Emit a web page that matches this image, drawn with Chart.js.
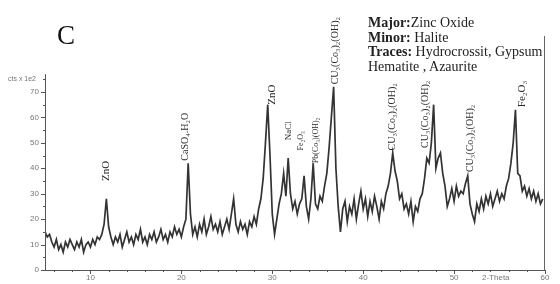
<!DOCTYPE html>
<html>
<head>
<meta charset="utf-8">
<script src="https://cdn.jsdelivr.net/npm/chart.js@4.4.0/dist/chart.umd.min.js"></script>
<style>
html, body { margin: 0; padding: 0; background: #fff; }
#wrap { position: relative; width: 560px; height: 284px; overflow: hidden; }
#xrd { position: absolute; left: 0; top: 0; }
.panel { position: absolute; left: 57px; top: 22px; font: 27px/27px "Liberation Serif", serif; color: #111; }
.phases { position: absolute; left: 368px; top: 16px; font: 14px/14.5px "Liberation Serif", serif; color: #222; white-space: nowrap; }
.units { position: absolute; left: 8px; top: 75px; font: 7px "Liberation Sans", sans-serif; color: #777; }
.xname { position: absolute; left: 482px; top: 273px; font: 8px "Liberation Sans", sans-serif; color: #777; }
</style>
</head>
<body>
<div id="wrap">
  <canvas id="xrd" width="560" height="284"></canvas>
  <div class="panel">C</div>
  <div class="phases">
    <b>Major:</b>Zinc Oxide<br>
    <b>Minor:</b> Halite<br>
    <b>Traces:</b> Hydrocrossit, Gypsum<br>
    Hematite , Azaurite
  </div>
  <div class="units">cts x 1e2</div>
  <div class="xname">2-Theta</div>
</div>
<script>
// scan grid (degrees 2-theta)
const scanStart = 5;
const scanStep = 0.25;

// intensity, one row = 2 degrees
const counts = [
  15, 13, 14, 11, 9, 12, 8, 10,
  7, 11, 9, 12, 10, 8, 11, 9,
  12, 7, 10, 11, 9, 12, 10, 13,
  12, 14, 18, 28, 17, 13, 10, 13,
  11, 14, 9, 12, 15, 11, 13, 10,
  14, 12, 16, 11, 13, 10, 14, 12,
  15, 11, 13, 16, 12, 14, 11, 15,
  13, 17, 14, 16, 13, 17, 20, 42,
  22, 14, 17, 13, 18, 15, 20, 14,
  17, 21, 16, 18, 15, 19, 14, 17,
  20, 16, 22, 28, 18, 15, 19, 16,
  18, 14, 19, 17, 21, 18, 24, 28,
  36, 50, 65, 45, 22, 14, 20, 26,
  30, 38, 29, 44, 30, 24, 27, 22,
  26, 28, 37, 25, 20, 28, 42, 26,
  24, 29, 27, 33, 38, 48, 60, 72,
  40, 25, 15, 24, 27, 19, 25, 22,
  28, 20, 26, 31, 24, 28, 21, 27,
  23, 29, 25, 20, 27, 24, 30, 33,
  38, 46, 39, 35, 28, 30, 24, 26,
  22, 27, 19, 25, 23, 28, 30, 36,
  44, 42, 50, 65, 40, 44, 46, 38,
  33, 25, 28, 32, 27, 33, 29, 31,
  30, 34, 37, 26, 22, 19, 26, 23,
  28, 24, 29, 26, 30, 25, 28, 31,
  27, 30, 28, 33, 36, 42, 50, 63,
  38, 37, 31, 33, 29, 32, 28, 31,
  27, 30, 26, 28
];

// the tall line at the end of the scan
const edgeAngle = 60;
const edgeCounts = [0, 92];

const tickAngles = [10, 20, 30, 40, 50, 60];
const tickCounts = [0, 10, 20, 30, 40, 50, 60, 70];

const peakNames = ['ZnO', 'CaSO\u2084.H\u2082O', 'ZnO', 'NaCl', 'Fe\u2082O\u2083', 'Pb(Co\u2083)(OH)\u2082',
  'CU\u2083(Co\u2083)\u2082(OH)\u2082', 'CU\u2083(Co\u2083)\u2082(OH)\u2082', 'CU\u2083(Co\u2083)\u2082(OH)\u2082',
  'CU\u2083(Co\u2083)\u2082(OH)\u2082', 'Fe\u2082O\u2083'];
const peakAngles = [11.7, 20.4, 30.0, 31.85, 33.2, 34.8, 36.9, 43.2, 46.8, 51.75, 57.5];

// where each rotated label starts (in counts) and its font size
const labelLayout = [
  { base: 35, size: 11 }, { base: 43, size: 10 }, { base: 65, size: 11 },
  { base: 51, size: 9 }, { base: 47, size: 8 }, { base: 42, size: 8 },
  { base: 73, size: 10 }, { base: 47, size: 10 }, { base: 48, size: 10 },
  { base: 38.5, size: 10 }, { base: 64, size: 11 }
];

const trace = counts.map((c, i) => ({ x: scanStart + i * scanStep, y: c }));
const edge = edgeCounts.map(c => ({ x: edgeAngle, y: c }));

const xrdDecor = {
  id: 'xrdDecor',
  afterDraw(chart) {
    const ctx = chart.ctx;
    const xs = chart.scales.x, ys = chart.scales.y;
    const x0 = xs.getPixelForValue(5), x1 = xs.getPixelForValue(60);
    const yb = ys.getPixelForValue(0);
    ctx.save();
    ctx.strokeStyle = '#555';
    ctx.lineWidth = 1;
    ctx.beginPath();
    // axes
    ctx.moveTo(x0, yb + 0.5); ctx.lineTo(x1, yb + 0.5);
    ctx.moveTo(x0 + 0.5, yb); ctx.lineTo(x0 + 0.5, ys.getPixelForValue(77));
    // y ticks
    for (let v = 0; v <= 75; v += 5) {
      const p = Math.round(ys.getPixelForValue(v)) + 0.5;
      ctx.moveTo(x0, p); ctx.lineTo(x0 - (v % 10 === 0 ? 4 : 2), p);
    }
    // x ticks
    for (let a = 6; a <= 60; a += 2) {
      const p = Math.round(xs.getPixelForValue(a)) + 0.5;
      ctx.moveTo(p, yb); ctx.lineTo(p, yb + (a % 10 === 0 ? 4 : 2));
    }
    ctx.stroke();

    // phase labels above peaks
    ctx.fillStyle = '#2a2a2a';
    ctx.textAlign = 'left';
    ctx.textBaseline = 'middle';
    peakNames.forEach((name, i) => {
      const lay = labelLayout[i];
      const px = xs.getPixelForValue(peakAngles[i]);
      const py = ys.getPixelForValue(lay.base);
      ctx.save();
      ctx.translate(px, py);
      ctx.rotate(-Math.PI / 2);
      ctx.font = lay.size + 'px "Liberation Serif", "DejaVu Serif", serif';
      ctx.fillText(name, 0, 0);
      ctx.restore();
    });
    ctx.restore();
  }
};

new Chart(document.getElementById('xrd'), {
  type: 'line',
  data: {
    datasets: [
      { data: trace, borderColor: '#333', borderWidth: 1.7, pointRadius: 0, tension: 0 },
      { data: edge, borderColor: '#333', borderWidth: 1.5, pointRadius: 0 }
    ]
  },
  options: {
    responsive: false,
    animation: false,
    layout: { padding: { top: 36, right: 15, left: 0, bottom: 0 } },
    plugins: { legend: { display: false }, tooltip: { enabled: false } },
    scales: {
      x: {
        type: 'linear', min: 5, max: 60,
        afterBuildTicks: s => { s.ticks = tickAngles.map(v => ({ value: v })); },
        afterFit: s => { s.height = 14; },
        grid: { display: false, tickLength: 0 },
        border: { display: false },
        ticks: { color: '#777', font: { size: 8 }, padding: 3, maxRotation: 0 }
      },
      y: {
        min: 0, max: 92,
        afterBuildTicks: s => { s.ticks = tickCounts.map(v => ({ value: v })); },
        afterFit: s => { s.width = 45; },
        grid: { display: false, tickLength: 0 },
        border: { display: false },
        ticks: { color: '#777', font: { size: 8 }, padding: 6 }
      }
    }
  },
  plugins: [xrdDecor]
});
</script>
</body>
</html>
